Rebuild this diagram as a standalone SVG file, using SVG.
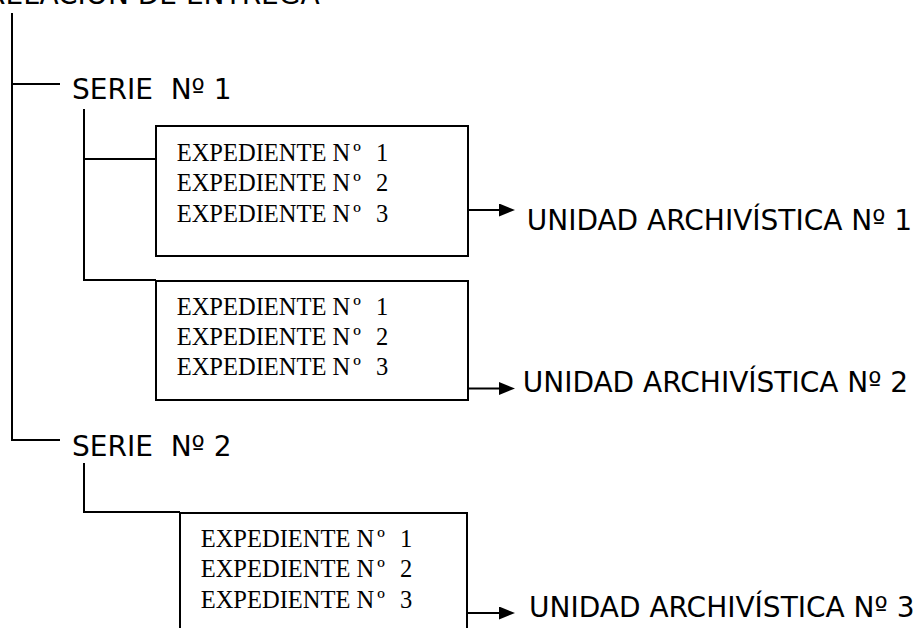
<svg xmlns="http://www.w3.org/2000/svg" width="922" height="628" viewBox="0 0 922 628">
<style>
.ln{stroke:#000;stroke-width:2;fill:none}
.box{stroke:#000;stroke-width:2;fill:#fff}
.sans{font-family:"DejaVu Sans",Verdana,sans-serif;font-size:28px;fill:#000;white-space:pre}
.serif{font-family:"Liberation Serif","Times New Roman",serif;font-size:24.5px;fill:#000}
</style>
<defs>
<marker id="arr" viewBox="0 0 16 13" refX="6" refY="6.5" markerWidth="16" markerHeight="13" markerUnits="userSpaceOnUse" orient="auto">
<path d="M0,0 L16,6.5 L0,13 z" fill="#000"/>
</marker>
</defs>
<rect width="922" height="628" fill="#fff"/>
<g id="title"><text class="sans" x="-14" y="4">RELACION DE ENTREGA</text></g>
<g id="connectors">
<path class="ln" d="M12,13 V441"/>
<path class="ln" d="M12,84 H60"/>
<path class="ln" d="M84,109 V280 H156"/>
<path class="ln" d="M84,159 H156"/>
<path class="ln" d="M12,440 H60"/>
<path class="ln" d="M84,463 V512 H180"/>
<path class="ln" d="M468,210 H505" marker-end="url(#arr)"/>
<path class="ln" d="M468,388.5 H505" marker-end="url(#arr)"/>
<path class="ln" d="M467,613 H505" marker-end="url(#arr)"/>
</g>
<g id="serie1"><text class="sans" x="72" y="99" xml:space="preserve">SERIE  Nº 1</text></g>
<g id="serie2"><text class="sans" x="72" y="456" xml:space="preserve">SERIE  Nº 2</text></g>
<g id="box1">
<rect class="box" x="156" y="126" width="312" height="130"/>
<text class="serif" x="176.7" y="160.5">EXPEDIENTE N<tspan dx="3">º</tspan><tspan x="376">1</tspan></text>
<text class="serif" x="176.7" y="191">EXPEDIENTE N<tspan dx="3">º</tspan><tspan x="376">2</tspan></text>
<text class="serif" x="176.7" y="221.5">EXPEDIENTE N<tspan dx="3">º</tspan><tspan x="376">3</tspan></text>
</g>
<g id="box2">
<rect class="box" x="156" y="281" width="312" height="119"/>
<text class="serif" x="176.7" y="315">EXPEDIENTE N<tspan dx="3">º</tspan><tspan x="376">1</tspan></text>
<text class="serif" x="176.7" y="345">EXPEDIENTE N<tspan dx="3">º</tspan><tspan x="376">2</tspan></text>
<text class="serif" x="176.7" y="375">EXPEDIENTE N<tspan dx="3">º</tspan><tspan x="376">3</tspan></text>
</g>
<g id="box3">
<rect class="box" x="180" y="513" width="287" height="130"/>
<text class="serif" x="200.7" y="546.7">EXPEDIENTE N<tspan dx="3">º</tspan><tspan x="400">1</tspan></text>
<text class="serif" x="200.7" y="577">EXPEDIENTE N<tspan dx="3">º</tspan><tspan x="400">2</tspan></text>
<text class="serif" x="200.7" y="608">EXPEDIENTE N<tspan dx="3">º</tspan><tspan x="400">3</tspan></text>
</g>
<g id="unidad1"><text class="sans" x="526.7" y="230">UNIDAD ARCHIVÍSTICA Nº 1</text></g>
<g id="unidad2"><text class="sans" x="522.7" y="391.7">UNIDAD ARCHIVÍSTICA Nº 2</text></g>
<g id="unidad3"><text class="sans" x="529" y="617">UNIDAD ARCHIVÍSTICA Nº 3</text></g>
</svg>
